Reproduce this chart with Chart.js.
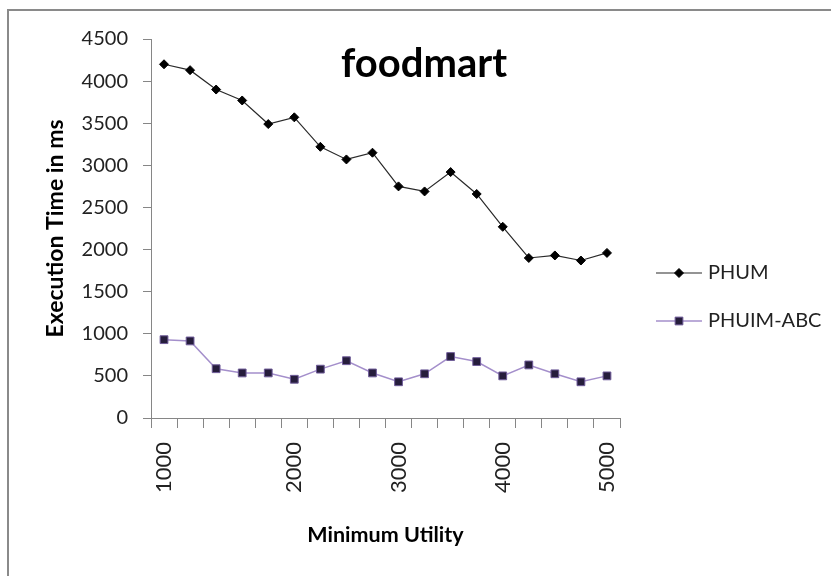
<!DOCTYPE html>
<html>
<head>
<meta charset="utf-8">
<script src="https://cdn.jsdelivr.net/npm/chart.js@4/dist/chart.umd.min.js"></script>
<style>
  html, body { margin: 0; padding: 0; background: #fff; }
  #wrap { width: 831px; height: 576px; }
</style>
</head>
<body>
<div id="wrap"><canvas id="chart" width="831" height="576"></canvas></div>
<script>
const TITLE = 'foodmart';
const X_TITLE = 'Minimum Utility';
const Y_TITLE = 'Execution Time in ms';
const X_LABELS = ['1000', '', '', '', '', '2000', '', '', '', '3000', '', '', '', '4000', '', '', '', '5000'];
const PHUM = [4200, 4130, 3900, 3770, 3490, 3570, 3220, 3070, 3150, 2750, 2690, 2920, 2660, 2270, 1900, 1930, 1870, 1960];
const PHUIM_ABC = [930, 915, 585, 535, 535, 460, 580, 680, 535, 430, 525, 730, 670, 500, 630, 525, 430, 500];
const Y_MIN = 0;
const Y_MAX = 4500;
const Y_STEP = 500;

const FONT = 'Lato';
const AXIS_GREY = '#868686';
const TEXT = '#222';

// frame, title and the side legend are drawn by hand (Excel-style layout)
const decorations = {
    id: 'decorations',
    beforeDraw(chart) {
        const c = chart.ctx;
        c.save();
        c.fillStyle = '#fff';
        c.fillRect(0, 0, chart.width, chart.height);
        c.fillStyle = '#8a8a8a';
        c.fillRect(7, 9, 2, chart.height - 9);
        c.fillRect(7, 9, chart.width - 7, 2);
        c.restore();
    },
    afterDraw(chart) {
        const c = chart.ctx;
        c.save();
        c.fillStyle = '#000';
        c.font = `bold 40px ${FONT}`;
        c.textAlign = 'center';
        c.textBaseline = 'alphabetic';
        c.fillText(TITLE, 424, 77);

        chart.data.datasets.forEach((ds, i) => {
            const y = 273 + i * 48;
            c.strokeStyle = ds.borderColor;
            c.lineWidth = ds.borderWidth;
            c.beginPath();
            c.moveTo(656, y);
            c.lineTo(702, y);
            c.stroke();
            c.fillStyle = ds.pointBackgroundColor;
            c.strokeStyle = ds.pointBorderColor;
            c.lineWidth = 1;
            Chart.helpers.drawPoint(c, { pointStyle: ds.pointStyle, radius: ds.pointRadius, borderWidth: 1 }, 679, y);
            c.fillStyle = TEXT;
            c.font = `20px ${FONT}`;
            c.textAlign = 'left';
            c.textBaseline = 'middle';
            c.fillText(ds.label, 708, y);
        });
        c.restore();
    },
};

new Chart(document.getElementById('chart'), {
    type: 'line',
    data: {
        labels: X_LABELS,
        datasets: [
            {
                label: 'PHUM',
                data: PHUM,
                borderColor: '#2a2a2a',
                borderWidth: 1.2,
                pointStyle: 'rectRot',
                pointRadius: 4.5,
                pointBackgroundColor: '#000',
                pointBorderColor: '#000',
                pointBorderWidth: 1,
                tension: 0,
            },
            {
                label: 'PHUIM-ABC',
                data: PHUIM_ABC,
                borderColor: '#a48fcb',
                borderWidth: 1.5,
                pointStyle: 'rect',
                pointRadius: 5.5,
                pointBackgroundColor: '#261d3c',
                pointBorderColor: '#6f5c99',
                pointBorderWidth: 1,
                tension: 0,
            },
        ],
    },
    options: {
        responsive: false,
        animation: false,
        layout: {
            padding: { top: 39, right: 211, bottom: 0, left: 0 },
        },
        plugins: {
            legend: { display: false },
            title: { display: false },
            tooltip: { enabled: false },
        },
        scales: {
            x: {
                type: 'category',
                offset: true,
                afterFit(scale) {
                    scale.height = 158;
                },
                grid: {
                    offset: true,
                    drawOnChartArea: false,
                    color: AXIS_GREY,
                    tickLength: 10,
                },
                border: { color: AXIS_GREY, width: 1 },
                ticks: {
                    autoSkip: false,
                    maxRotation: 90,
                    minRotation: 90,
                    padding: 14,
                    color: TEXT,
                    font: { family: FONT, size: 22 },
                },
                title: {
                    display: true,
                    text: X_TITLE,
                    color: '#000',
                    font: { family: FONT, size: 21.5, weight: 'bold' },
                    padding: { top: 0, bottom: 28 },
                },
            },
            y: {
                min: Y_MIN,
                max: Y_MAX,
                afterFit(scale) {
                    scale.width = 151;
                },
                grid: {
                    drawOnChartArea: false,
                    color: AXIS_GREY,
                    tickLength: 8,
                },
                border: { color: AXIS_GREY, width: 1 },
                ticks: {
                    stepSize: Y_STEP,
                    padding: 15,
                    color: TEXT,
                    font: { family: FONT, size: 20 },
                    callback: (v) => String(v),
                },
                title: {
                    display: true,
                    text: Y_TITLE,
                    color: '#000',
                    font: { family: FONT, size: 23, weight: 'bold' },
                    padding: { top: 42, bottom: 0 },
                },
            },
        },
    },
    plugins: [decorations],
});
</script>
</body>
</html>
